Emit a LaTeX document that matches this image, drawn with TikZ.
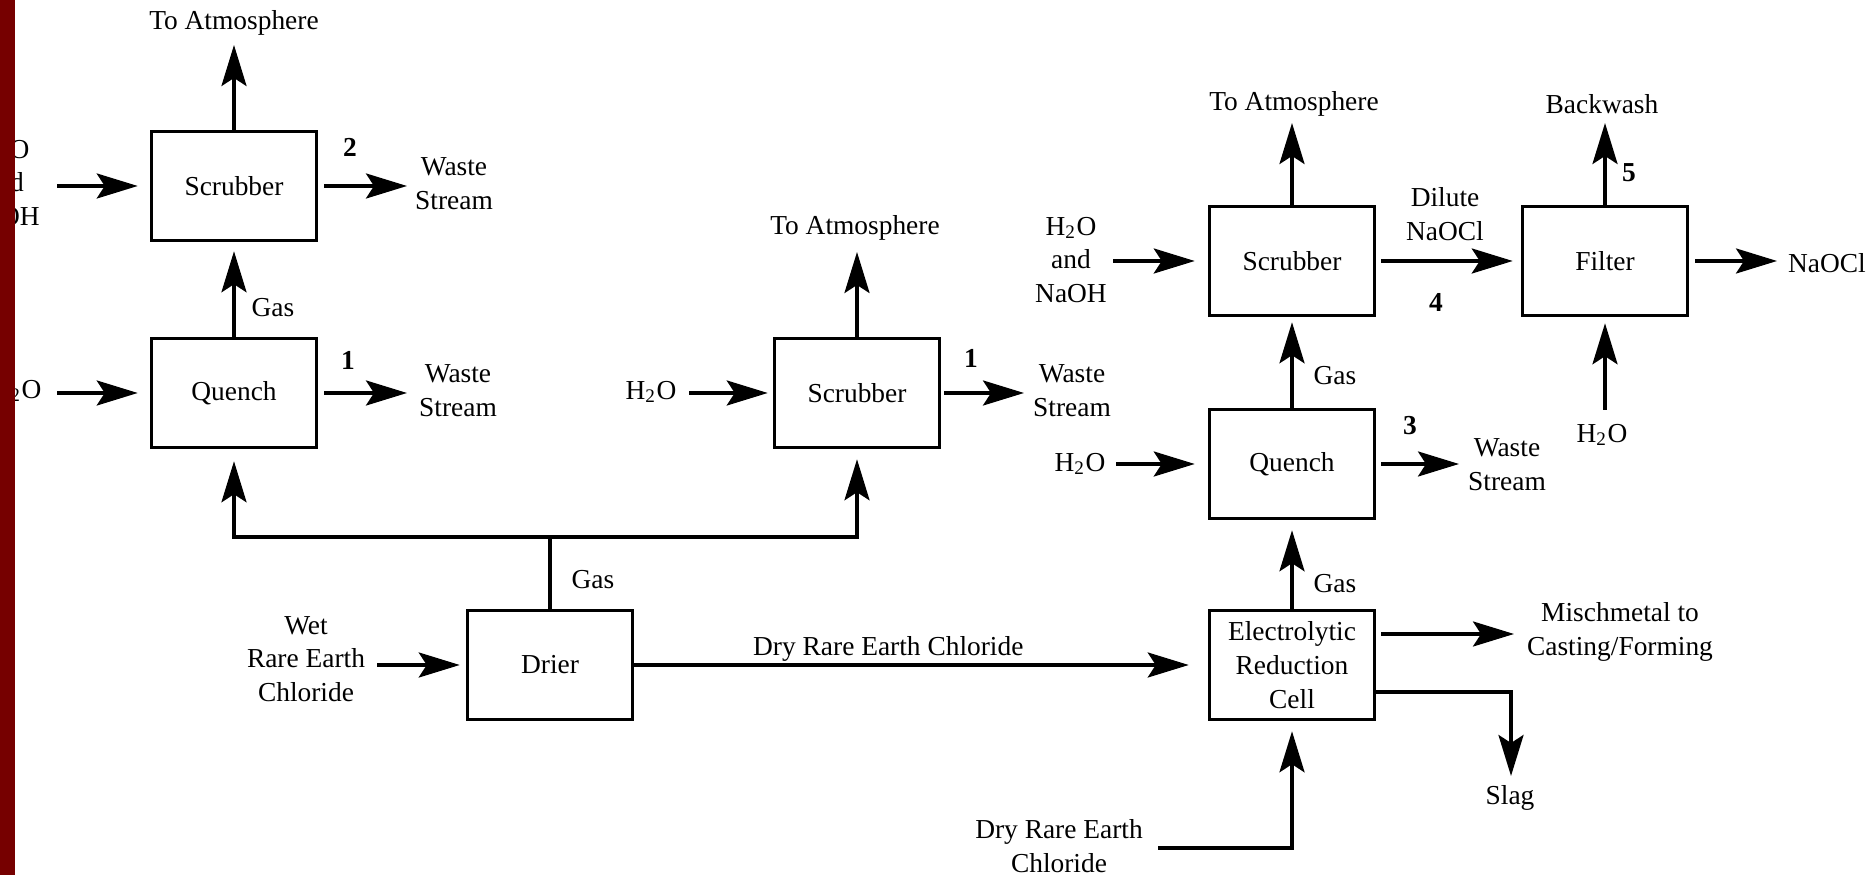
\documentclass[tikz,border=0pt]{standalone}
\usepackage{fontspec}
\setmainfont{Liberation Serif}
\usepackage{tikz}
\usetikzlibrary{arrows.meta}
\colorlet{strokeColor}{black}
\colorlet{textColor}{black}
\definecolor{stripColor}{RGB}{118,0,0}
\newcommand{\water}{H\textsubscript{2}O}
\tikzset{
  unitbox/.style={draw=strokeColor, line width=1pt, minimum width=16.5mm,
    minimum height=10.9mm, inner sep=0pt, align=center, text=textColor},
  lbl/.style={align=center, text=textColor, inner sep=0pt},
  num/.style={lbl, font=\fontsize{7.8}{9.6}\selectfont\bfseries},
  flow/.style={draw=strokeColor, line width=1pt,
    -{Stealth[length=4.1mm, width=2.5mm, inset=0.8mm]}},
  pipe/.style={draw=strokeColor, line width=1pt},
}
\begin{document}
\begin{tikzpicture}[x=0.1mm, y=-0.1mm, font=\fontsize{7.8}{9.6}\selectfont]
    \useasboundingbox (0,0) rectangle (1872,875);
    % left train
    \node[unitbox] (scrubA) at (234,186) {Scrubber};
    \node[unitbox] (quenchA) at (234,393) {Quench};
    \coordinate (atmA) at (234,45);
    \coordinate (inA) at (57,186);
    \coordinate (outA) at (407,186);
    \coordinate (inQA) at (57,393);
    \coordinate (outQA) at (407,393);
    \draw[flow] (scrubA.north) -- (atmA);
    \node[lbl] at (234,23) {To Atmosphere};
    \draw[flow, shorten >=1.2mm] (inA) -- (scrubA.west);
    \node[lbl] at (4,183) {\water\\and\\NaOH};
    \draw[flow, shorten <=0.6mm] (scrubA.east) -- (outA);
    \node[num] at (350,147) {2};
    \node[lbl] at (454,184) {Waste\\Stream};
    \draw[flow, shorten >=0.9mm] (quenchA.north) -- (scrubA.south);
    \node[lbl] at (273,308) {Gas};
    \draw[flow, shorten >=1.2mm] (inQA) -- (quenchA.west);
    \node[lbl] at (16,391) {\water};
    \draw[flow, shorten <=0.6mm] (quenchA.east) -- (outQA);
    \node[num] at (348,360) {1};
    \node[lbl] at (458,391) {Waste\\Stream};

    % drier and middle scrubber
    \node[unitbox] (drier) at (550,665) {Drier};
    \node[unitbox] (scrubB) at (857,393) {Scrubber};
    \coordinate (split) at (550,537);
    \draw[pipe] (drier.north) -- (split);
    \draw[flow, shorten >=1.2mm] (split) -| (quenchA.south);
    \draw[flow, shorten >=1.0mm] (split) -| (scrubB.south);
    \node[lbl] at (593,580) {Gas};
    \coordinate (wetin) at (377,665);
    \draw[flow, shorten >=0.6mm] (wetin) -- (drier.west);
    \node[lbl] at (306,659) {Wet\\Rare Earth\\Chloride};
    \coordinate (atmB) at (857,252);
    \draw[flow] (scrubB.north) -- (atmB);
    \node[lbl] at (855,228) {To Atmosphere};
    \coordinate (inB) at (689,393);
    \draw[flow, shorten >=0.5mm] (inB) -- (scrubB.west);
    \node[lbl] at (651,392) {\water};
    \coordinate (outB) at (1024,393);
    \draw[flow, shorten <=0.3mm] (scrubB.east) -- (outB);
    \node[num] at (971,358) {1};
    \node[lbl] at (1072,391) {Waste\\Stream};

    % right train
    \node[unitbox] (scrubC) at (1292,261) {Scrubber};
    \node[unitbox] (filter) at (1605,261) {Filter};
    \node[unitbox] (quenchC) at (1292,464) {Quench};
    \node[unitbox] (cell) at (1292,665) {Electrolytic\\Reduction\\Cell};
    \draw[flow, shorten >=1.9mm] (drier.east) --
      node[lbl, pos=0.443, above=0.2mm] {Dry Rare Earth Chloride} (cell.west);
    \coordinate (atmC) at (1292,123);
    \draw[flow] (scrubC.north) -- (atmC);
    \node[lbl] at (1294,104) {To Atmosphere};
    \coordinate (inC) at (1113,261);
    \draw[flow, shorten >=1.3mm] (inC) -- (scrubC.west);
    \node[lbl] at (1071,260) {\water\\and\\NaOH};
    \draw[flow, shorten <=0.5mm, shorten >=0.8mm] (scrubC.east) -- (filter.west);
    \node[lbl] at (1445,214) {Dilute\\NaOCl};
    \node[num] at (1436,302) {4};
    \coordinate (backw) at (1605,123);
    \draw[flow] (filter.north) -- (backw);
    \node[lbl] at (1602,104) {Backwash};
    \node[num] at (1629,173) {5};
    \coordinate (inF) at (1605,410);
    \draw[flow, shorten >=0.6mm] (inF) -- (filter.south);
    \node[lbl] at (1602,435) {\water};
    \coordinate (outF) at (1777,261);
    \draw[flow, shorten <=0.6mm] (filter.east) -- (outF);
    \node[lbl] at (1827,263) {NaOCl};

    \draw[flow, shorten >=0.5mm] (quenchC.north) -- (scrubC.south);
    \node[lbl] at (1335,376) {Gas};
    \coordinate (inQC) at (1116,464);
    \draw[flow, shorten >=1.3mm] (inQC) -- (quenchC.west);
    \node[lbl] at (1080,464) {\water};
    \coordinate (outQC) at (1459,464);
    \draw[flow, shorten <=0.5mm] (quenchC.east) -- (outQC);
    \node[num] at (1410,426) {3};
    \node[lbl] at (1507,465) {Waste\\Stream};

    \draw[flow, shorten >=1.0mm] (cell.north) -- (quenchC.south);
    \node[lbl] at (1335,584) {Gas};
    \coordinate (misch) at (1514,634);
    \draw[flow, shorten <=0.5mm] (cell.east |- misch) -- (misch);
    \node[lbl] at (1620,632) {Mischmetal to\\Casting/Forming};
    \coordinate (slagturn) at (1511,692);
    \coordinate (slag) at (1511,776);
    \draw[flow] (cell.east |- slagturn) -- (slagturn) -- (slag);
    \node[lbl] at (1510,798) {Slag};
    \coordinate (dryin) at (1158,848);
    \draw[flow, shorten >=1.0mm] (dryin) -| (cell.south);
    \node[lbl] at (1059,846) {Dry Rare Earth\\Chloride};

    % edge strip
    \fill[stripColor] (0,0) rectangle (15,875);
  \end{tikzpicture}
\end{document}
